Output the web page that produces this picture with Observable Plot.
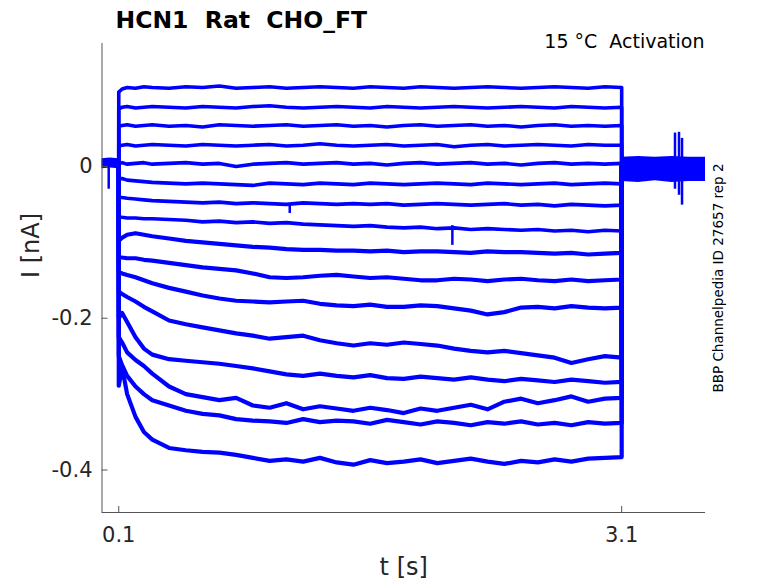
<!DOCTYPE html>
<html>
<head>
<meta charset="utf-8">
<script src="https://cdn.jsdelivr.net/npm/d3@7"></script>
<script src="https://cdn.jsdelivr.net/npm/@observablehq/plot@0.6"></script>
<style>
  html, body { margin: 0; padding: 0; background: #fff; }
</style>
</head>
<body>
<div id="chart"></div>
<script>
const titleText = "HCN1  Rat  CHO_FT";
const conditionText = "15 °C  Activation";
const sideText = "BBP Channelpedia ID 27657 rep 2";
const xLabel = "t [s]";
const yLabel = "I [nA]";
const xTicks = [0.1, 3.1];
const yTicks = [0, -0.2, -0.4];
const xDomain = [0, 3.6];
const yDomain = [-0.456, 0.162];

// sample times during the voltage step (s)
const T = [0.1, 0.12, 0.15, 0.2, 0.25, 0.3, 0.4, 0.5, 0.6, 0.7, 0.8, 0.9, 1.0, 1.1, 1.2, 1.3, 1.4,
           1.5, 1.6, 1.7, 1.8, 1.9, 2.0, 2.1, 2.2, 2.3, 2.4, 2.5, 2.6, 2.7, 2.8, 2.9, 3.0, 3.1];

// current traces (nA), one per test potential
const tr1 = [0.098, 0.102, 0.104, 0.103, 0.105, 0.104, 0.103, 0.105, 0.104, 0.106, 0.103, 0.104, 0.105, 0.103, 0.104, 0.105, 0.104, 0.103, 0.105, 0.104, 0.103, 0.105, 0.104, 0.103, 0.104, 0.105, 0.104, 0.103, 0.104, 0.105, 0.104, 0.103, 0.105, 0.104];
const tr2 = [0.076, 0.078, 0.079, 0.077, 0.078, 0.079, 0.078, 0.077, 0.079, 0.078, 0.077, 0.079, 0.080, 0.078, 0.077, 0.078, 0.079, 0.078, 0.077, 0.079, 0.078, 0.077, 0.078, 0.079, 0.078, 0.077, 0.078, 0.079, 0.078, 0.077, 0.079, 0.078, 0.077, 0.078];
const tr3 = [0.053, 0.054, 0.055, 0.053, 0.054, 0.055, 0.053, 0.054, 0.052, 0.055, 0.054, 0.053, 0.054, 0.055, 0.053, 0.054, 0.055, 0.053, 0.054, 0.052, 0.054, 0.055, 0.053, 0.054, 0.055, 0.053, 0.054, 0.052, 0.054, 0.055, 0.053, 0.054, 0.053, 0.054];
const tr4 = [0.027, 0.028, 0.029, 0.027, 0.028, 0.029, 0.028, 0.027, 0.029, 0.028, 0.027, 0.028, 0.029, 0.027, 0.028, 0.030, 0.028, 0.027, 0.028, 0.029, 0.027, 0.028, 0.029, 0.026, 0.028, 0.029, 0.027, 0.028, 0.029, 0.028, 0.027, 0.029, 0.028, 0.028];
const tr5 = [0.004, 0.005, 0.003, 0.004, 0.005, 0.003, 0.004, 0.005, 0.003, 0.004, 0.000, 0.003, 0.004, 0.005, 0.003, 0.004, 0.005, 0.003, 0.004, 0.002, 0.004, 0.005, 0.003, 0.004, 0.005, 0.003, 0.004, 0.002, 0.004, 0.005, 0.003, 0.004, 0.003, 0.004];
const tr6 = [-0.017, -0.016, -0.018, -0.019, -0.020, -0.021, -0.022, -0.023, -0.022, -0.023, -0.024, -0.025, -0.022, -0.023, -0.024, -0.022, -0.023, -0.024, -0.022, -0.023, -0.024, -0.023, -0.022, -0.023, -0.024, -0.022, -0.023, -0.024, -0.023, -0.022, -0.024, -0.023, -0.022, -0.023];
const tr7 = [-0.040, -0.041, -0.042, -0.043, -0.044, -0.045, -0.046, -0.047, -0.048, -0.047, -0.049, -0.048, -0.049, -0.050, -0.048, -0.049, -0.050, -0.049, -0.050, -0.049, -0.051, -0.050, -0.049, -0.050, -0.051, -0.050, -0.049, -0.051, -0.050, -0.052, -0.050, -0.051, -0.052, -0.051];
const tr8 = [-0.066, -0.067, -0.068, -0.068, -0.069, -0.069, -0.070, -0.071, -0.073, -0.072, -0.074, -0.073, -0.075, -0.074, -0.076, -0.077, -0.078, -0.079, -0.078, -0.080, -0.081, -0.080, -0.082, -0.081, -0.083, -0.082, -0.083, -0.084, -0.083, -0.085, -0.084, -0.086, -0.084, -0.085];
const tr9 = [-0.098, -0.094, -0.090, -0.088, -0.090, -0.092, -0.095, -0.098, -0.100, -0.102, -0.104, -0.106, -0.107, -0.109, -0.110, -0.110, -0.111, -0.111, -0.112, -0.111, -0.113, -0.112, -0.112, -0.113, -0.114, -0.112, -0.113, -0.113, -0.114, -0.115, -0.114, -0.116, -0.115, -0.114];
const tr10 = [-0.119, -0.120, -0.121, -0.121, -0.123, -0.124, -0.127, -0.130, -0.133, -0.135, -0.137, -0.141, -0.146, -0.147, -0.146, -0.144, -0.143, -0.145, -0.147, -0.146, -0.148, -0.150, -0.150, -0.148, -0.149, -0.151, -0.149, -0.148, -0.150, -0.151, -0.149, -0.151, -0.150, -0.149];
const tr11 = [-0.139, -0.141, -0.143, -0.146, -0.150, -0.154, -0.160, -0.165, -0.170, -0.174, -0.177, -0.178, -0.179, -0.178, -0.177, -0.181, -0.183, -0.184, -0.182, -0.185, -0.185, -0.183, -0.184, -0.187, -0.190, -0.195, -0.192, -0.186, -0.185, -0.187, -0.184, -0.186, -0.187, -0.186];
const tr12 = [-0.165, -0.168, -0.172, -0.178, -0.185, -0.191, -0.203, -0.208, -0.212, -0.216, -0.220, -0.223, -0.227, -0.225, -0.223, -0.229, -0.233, -0.236, -0.233, -0.235, -0.232, -0.234, -0.236, -0.240, -0.243, -0.245, -0.243, -0.246, -0.249, -0.252, -0.259, -0.254, -0.250, -0.252];
const tr13 = [-0.200, -0.193, -0.205, -0.225, -0.240, -0.248, -0.254, -0.256, -0.258, -0.260, -0.263, -0.266, -0.270, -0.274, -0.276, -0.273, -0.276, -0.278, -0.275, -0.279, -0.280, -0.277, -0.279, -0.281, -0.278, -0.281, -0.283, -0.280, -0.282, -0.284, -0.281, -0.283, -0.285, -0.284];
const tr14 = [-0.225, -0.232, -0.245, -0.255, -0.263, -0.273, -0.290, -0.300, -0.304, -0.308, -0.305, -0.315, -0.318, -0.312, -0.320, -0.316, -0.319, -0.322, -0.318, -0.321, -0.325, -0.319, -0.322, -0.318, -0.314, -0.320, -0.310, -0.306, -0.312, -0.308, -0.303, -0.310, -0.306, -0.305];
const tr15 = [-0.250, -0.262, -0.276, -0.290, -0.300, -0.308, -0.315, -0.322, -0.326, -0.328, -0.333, -0.335, -0.336, -0.338, -0.333, -0.337, -0.335, -0.336, -0.339, -0.334, -0.337, -0.340, -0.336, -0.338, -0.341, -0.337, -0.339, -0.336, -0.340, -0.338, -0.341, -0.337, -0.339, -0.338];
const tr16 = [-0.289, -0.265, -0.300, -0.330, -0.350, -0.360, -0.371, -0.374, -0.376, -0.377, -0.380, -0.384, -0.388, -0.386, -0.389, -0.384, -0.390, -0.393, -0.387, -0.391, -0.389, -0.386, -0.391, -0.388, -0.385, -0.389, -0.392, -0.388, -0.390, -0.386, -0.389, -0.385, -0.384, -0.383];
const traces = [tr1, tr2, tr3, tr4, tr5, tr6, tr7, tr8, tr9, tr10, tr11, tr12, tr13, tr14, tr15, tr16];

// holding-current noise envelope before and after the step (nA)
const preT = [0, 0.05, 0.1];
const preHi = [0.010, 0.011, 0.010];
const preLo = [-0.003, -0.002, -0.003];
const postT = [3.1, 3.2, 3.3, 3.4, 3.5, 3.6];
const postHi = [0.012, 0.013, 0.012, 0.013, 0.012, 0.012];
const postLo = [-0.020, -0.021, -0.019, -0.021, -0.020, -0.020];

// isolated spikes / artefacts (time, low, high)
const spikeT = [0.04, 1.12, 2.09, 3.418, 3.442, 3.46];
const spikeLo = [-0.030, -0.062, -0.104, -0.030, -0.038, -0.051];
const spikeHi = [0.008, -0.050, -0.078, 0.044, 0.045, 0.037];

const blue = "#0000ff";
const axisGray = "#555555";
const textGray = "#262626";

const rows = [];
traces.forEach((tr, k) => {
  rows.push({k, t: T[0], v: 0});
  tr.forEach((v, i) => rows.push({k, t: T[i], v}));
  rows.push({k, t: T[T.length - 1], v: 0});
});
const upper = rows.filter(d => d.k < 8);
const lower = rows.filter(d => d.k >= 8);
const pre = preT.map((t, i) => ({t, lo: preLo[i], hi: preHi[i]}));
const post = postT.map((t, i) => ({t, lo: postLo[i], hi: postHi[i]}));
const spikes = spikeT.map((t, i) => ({t, lo: spikeLo[i], hi: spikeHi[i]}));

const W = 778, H = 583, mL = 101.5, mR = 73, mT = 43, mB = 71;
const frameW = W - mL - mR, frameH = H - mT - mB;
const tickLen = 6;

const chart = Plot.plot({
  width: W, height: H,
  marginLeft: mL, marginRight: mR, marginTop: mT, marginBottom: mB,
  style: {fontFamily: "DejaVu Sans", background: "#fff", color: textGray, overflow: "visible"},
  x: {domain: xDomain, label: null},
  y: {domain: yDomain, label: null},
  marks: [
    Plot.areaY(pre, {x: "t", y1: "lo", y2: "hi", fill: blue}),
    Plot.areaY(post, {x: "t", y1: "lo", y2: "hi", fill: blue}),
    Plot.ruleX(spikes, {x: "t", y1: "lo", y2: "hi", stroke: blue, strokeWidth: 2.5}),
    Plot.line(upper, {x: "t", y: "v", z: "k", stroke: blue, strokeWidth: 3.6}),
    Plot.line(lower, {x: "t", y: "v", z: "k", stroke: blue, strokeWidth: 4.2}),
    Plot.ruleX([xDomain[0]], {stroke: axisGray, strokeWidth: 1}),
    Plot.ruleY([yDomain[0]], {stroke: axisGray, strokeWidth: 1}),
    Plot.ruleX(xTicks, {stroke: axisGray, insetTop: frameH - tickLen}),
    Plot.ruleY(yTicks, {stroke: axisGray, insetRight: frameW - tickLen}),
    Plot.axisX({ticks: xTicks, tickSize: 0, tickPadding: 15, fontSize: 21, tickFormat: d => d.toFixed(1), label: null, fill: textGray}),
    Plot.axisY({ticks: yTicks, tickSize: 0, tickPadding: 9.5, fontSize: 21, tickFormat: d => d === 0 ? "0" : d.toFixed(1), label: null, fill: textGray}),
    Plot.text([xLabel], {text: d => d, frameAnchor: "bottom", lineAnchor: "middle", dy: 55, fontSize: 24, fill: textGray}),
    Plot.text([yLabel], {text: d => d, frameAnchor: "left", rotate: -90, lineAnchor: "middle", dx: -70.5, fontSize: 24, fill: textGray}),
    Plot.text([titleText], {text: d => d, frameAnchor: "top-left", textAnchor: "start", lineAnchor: "bottom", dx: 13.5, dy: -16, fontSize: 23.5, fontWeight: "bold", fill: "#000"}),
    Plot.text([conditionText], {text: d => d, frameAnchor: "top-right", textAnchor: "end", lineAnchor: "bottom", dx: -1, dy: 4.3, fontSize: 19, fill: "#000"}),
    Plot.text([sideText], {text: d => d, frameAnchor: "right", rotate: -90, textAnchor: "middle", lineAnchor: "middle", dx: 13, fontSize: 13.5, fill: "#000"})
  ]
});
document.getElementById("chart").appendChild(chart);
</script>
</body>
</html>
